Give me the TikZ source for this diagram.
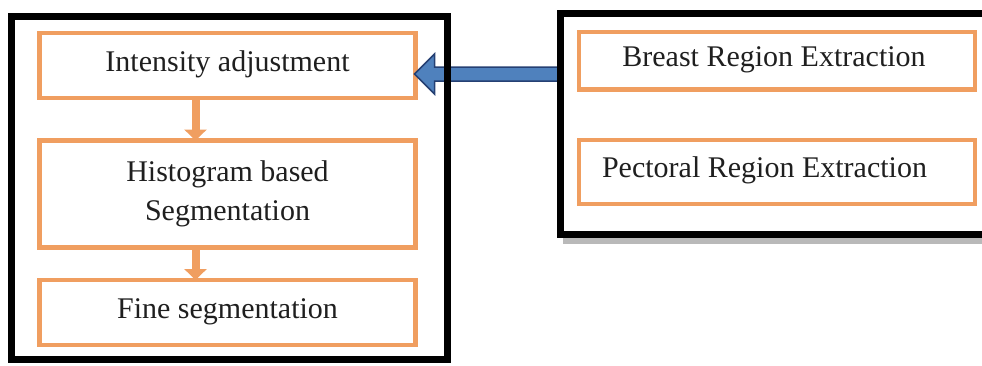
\documentclass[tikz,border=0pt]{standalone}
\usepackage{fontspec}
\setmainfont{Liberation Serif}
\usetikzlibrary{calc,arrows.meta}
\definecolor{boxorange}{RGB}{240,158,96}
\definecolor{arrowfill}{RGB}{79,129,189}
\definecolor{arrowline}{RGB}{37,64,115}
\tikzset{
  stage/.style={draw=boxorange, line width=4.5pt, inner sep=0pt, outer sep=0pt,
    font=\fontsize{30}{39}\selectfont, text=black!88, align=center},
  oneline/.style={text height=21pt, text depth=10pt},
  frame/.style={draw=black, line width=7pt, inner sep=0pt, outer sep=0pt},
  flow/.style={draw=boxorange, line width=8pt, -{Triangle[width=22pt,length=11pt]}},
  bluearrow/.style={fill=arrowfill, draw=arrowline, line width=1.5pt, line join=miter},
}
\begin{document}
\begin{tikzpicture}[x=1pt, y=-1pt]
  \useasboundingbox (0,0) rectangle (982,365);

  % outer frames (positions only, drawn later on top of the arrow)
  \path (229.25,187.5) node[inner sep=0pt, outer sep=0pt, minimum width=436.5pt, minimum height=343pt] (lframe) {};
  \path (780,123.75) node[inner sep=0pt, outer sep=0pt, minimum width=440pt, minimum height=220.5pt] (rframe) {};

  % processing stages
  \node[stage, oneline, minimum width=376pt, minimum height=65pt] (ia) at (227.5,65.5) {Intensity adjustment};
  \node[stage, minimum width=376pt, minimum height=107pt] (hb) at (227.5,194) {Histogram based\\Segmentation};
  \node[stage, oneline, minimum width=376pt, minimum height=65pt] (fs) at (227.5,312.5) {Fine segmentation};

  \node[stage, oneline, minimum width=396pt, minimum height=57.5pt] (bre) at (777,60.75) {Breast Region Extraction\hspace{6pt}};
  \node[stage, oneline, minimum width=396pt, minimum height=64pt] (pec) at (777,172) {Pectoral Region Extraction\hspace{25pt}};

  % block arrow from the extraction group to the first stage
  \coordinate (tip) at ($(ia.east)+(-1,8.5)$);
  \coordinate (tail) at (rframe.west |- tip);
  \filldraw[bluearrow] (tip) -- ++(20,-20) -- ++(0,13) -- ($(tail)+(0,-7)$)
    -- ($(tail)+(0,7)$) -- ($(tip)+(20,7)$) -- ++(0,13) -- cycle;

  % shadow under the right frame
  \fill[gray!55] ($(rframe.south west)+(3,3.5)$) rectangle ($(rframe.south east)+(0,10)$);

  % frames
  \draw[frame] (lframe.north west) rectangle (lframe.south east);
  \draw[frame] (rframe.north west) rectangle (rframe.south east);

  % flow between stages
  \draw[flow] ([xshift=-32pt]ia.south) -- ([xshift=-32pt]hb.north);
  \draw[flow] ([xshift=-32pt]hb.south) -- ([xshift=-32pt]fs.north);
\end{tikzpicture}
\end{document}
